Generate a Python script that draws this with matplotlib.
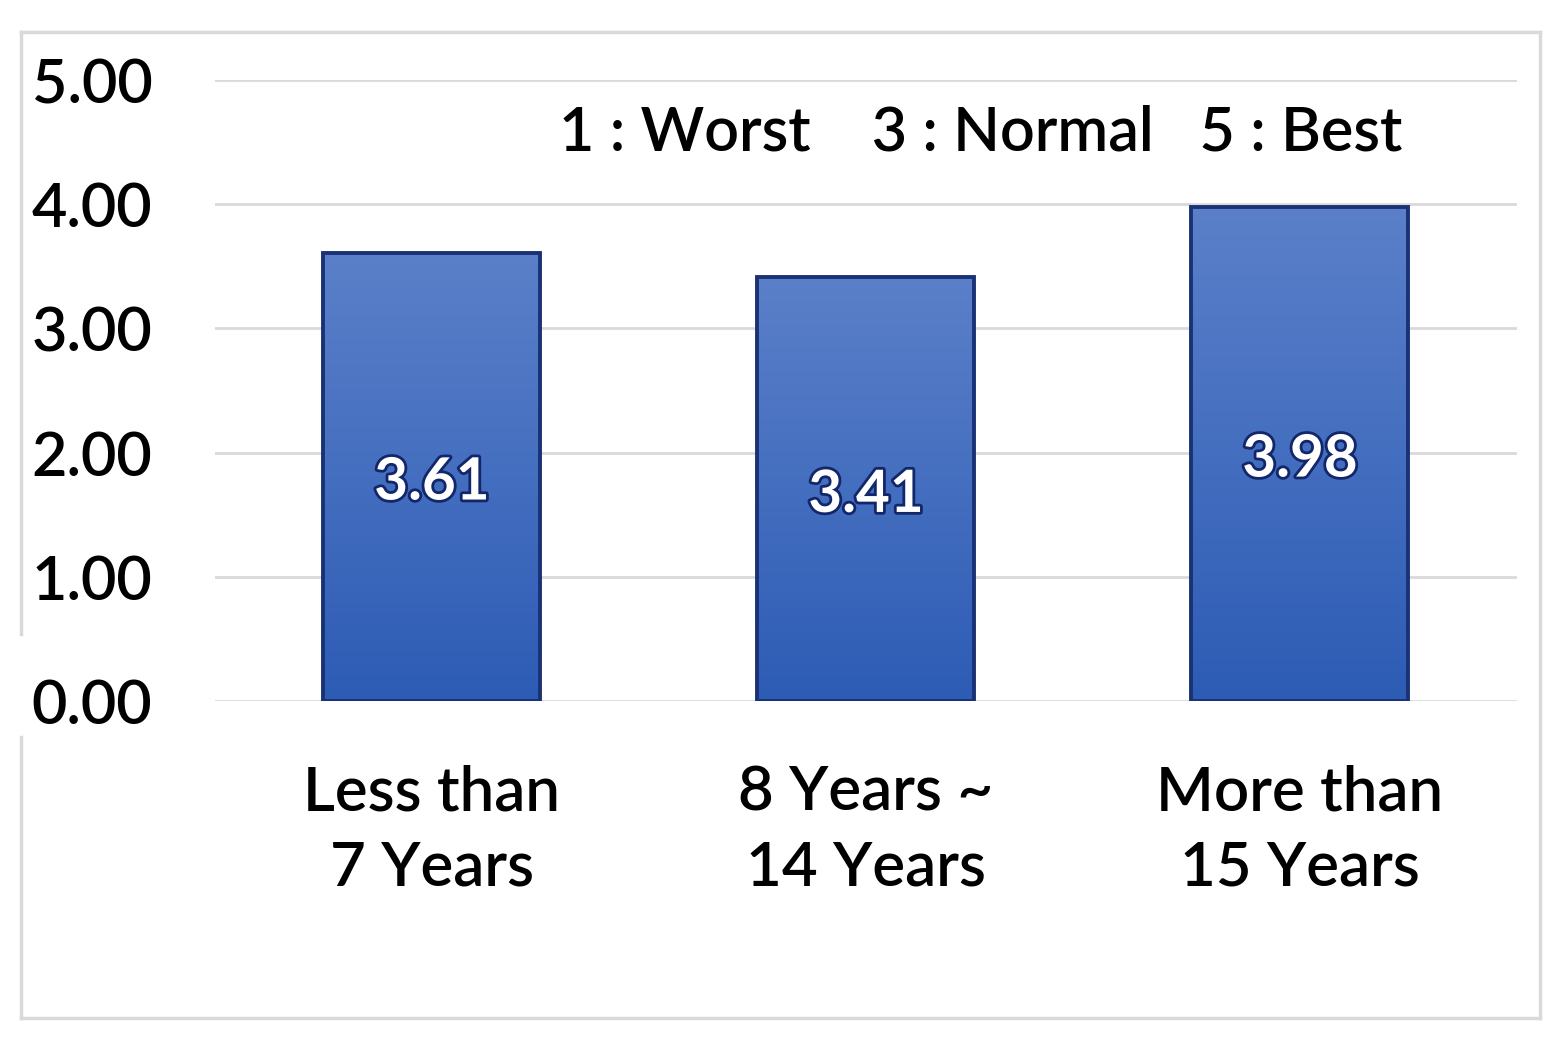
import matplotlib
matplotlib.use("Agg")
import matplotlib.pyplot as plt
import matplotlib.patheffects as pe
from matplotlib.lines import Line2D
from matplotlib.colors import LinearSegmentedColormap
import numpy as np

categories = ["Less than\n7 Years", "8 Years ~\n14 Years", "More than\n15 Years"]
values = [3.61, 3.41, 3.98]
yticks = [0, 1, 2, 3, 4, 5]
note = "1 : Worst    3 : Normal   5 : Best"

plt.rcParams['font.family'] = ['Lato', 'DejaVu Sans']

fig = plt.figure(figsize=(15.57, 10.60), dpi=100)
W, H = 1557, 1060
ax = fig.add_axes([215 / W, 1 - 701 / H, (1517 - 215) / W, (701 - 80) / H])

x = np.arange(len(categories))
bars = ax.bar(x, values, width=0.5, color="#4472c4", edgecolor="#1a3275",
              linewidth=2.8, zorder=3)

cmap = LinearSegmentedColormap.from_list("g", ["#2d5cb5", "#5b80c9"])
grad = np.linspace(0, 1, 256).reshape(-1, 1)
for b in bars:
    x0, y0, w, h = b.get_x(), b.get_y(), b.get_width(), b.get_height()
    im = ax.imshow(grad, cmap=cmap, extent=[x0, x0 + w, y0, y0 + h],
                   origin="lower", aspect="auto", zorder=3.5)
    im.set_clip_path(b)
    b.set_facecolor("none")
    b.set_zorder(4)

for xi, v in zip(x, values):
    ax.text(xi, v / 2 - 0.05, f"{v:.2f}", ha="center", va="center",
            fontsize=42, fontweight="bold", color="white", zorder=5,
            path_effects=[pe.withStroke(linewidth=4, foreground="#12266a")])

ax.set_xlim(-0.5, 2.5)
ax.set_ylim(0, 5)
ax.set_yticks(yticks)
ax.set_yticklabels([f"{t:.2f}" for t in yticks], fontsize=44, fontweight="semibold")
ax.set_xticks(x)
ax.set_xticklabels(categories, fontsize=44.5, linespacing=1.4, fontweight="semibold")
ax.tick_params(axis="y", length=0, pad=45)
ax.tick_params(axis="x", length=0, pad=46)
ax.grid(axis="y", color="#d9d9d9", linewidth=2, zorder=0)
for s in ax.spines.values():
    s.set_visible(False)

ax.text(0.588, 0.915, note, transform=ax.transAxes, ha="center", va="center",
        fontsize=44, color="black", fontweight="semibold")

# outer frame
fc = "#d9d9d9"
def fline(xs, ys):
    fig.add_artist(Line2D([v / W for v in xs], [1 - v / H for v in ys],
                          color=fc, linewidth=2.5, transform=fig.transFigure))
fline([21, 1540], [32, 32])
fline([1540, 1540], [32, 1018])
fline([21, 1540], [1018, 1018])
fline([21, 21], [32, 634])
fline([21, 21], [737, 1018])

fig.savefig("out.png", dpi=100, facecolor="white")
